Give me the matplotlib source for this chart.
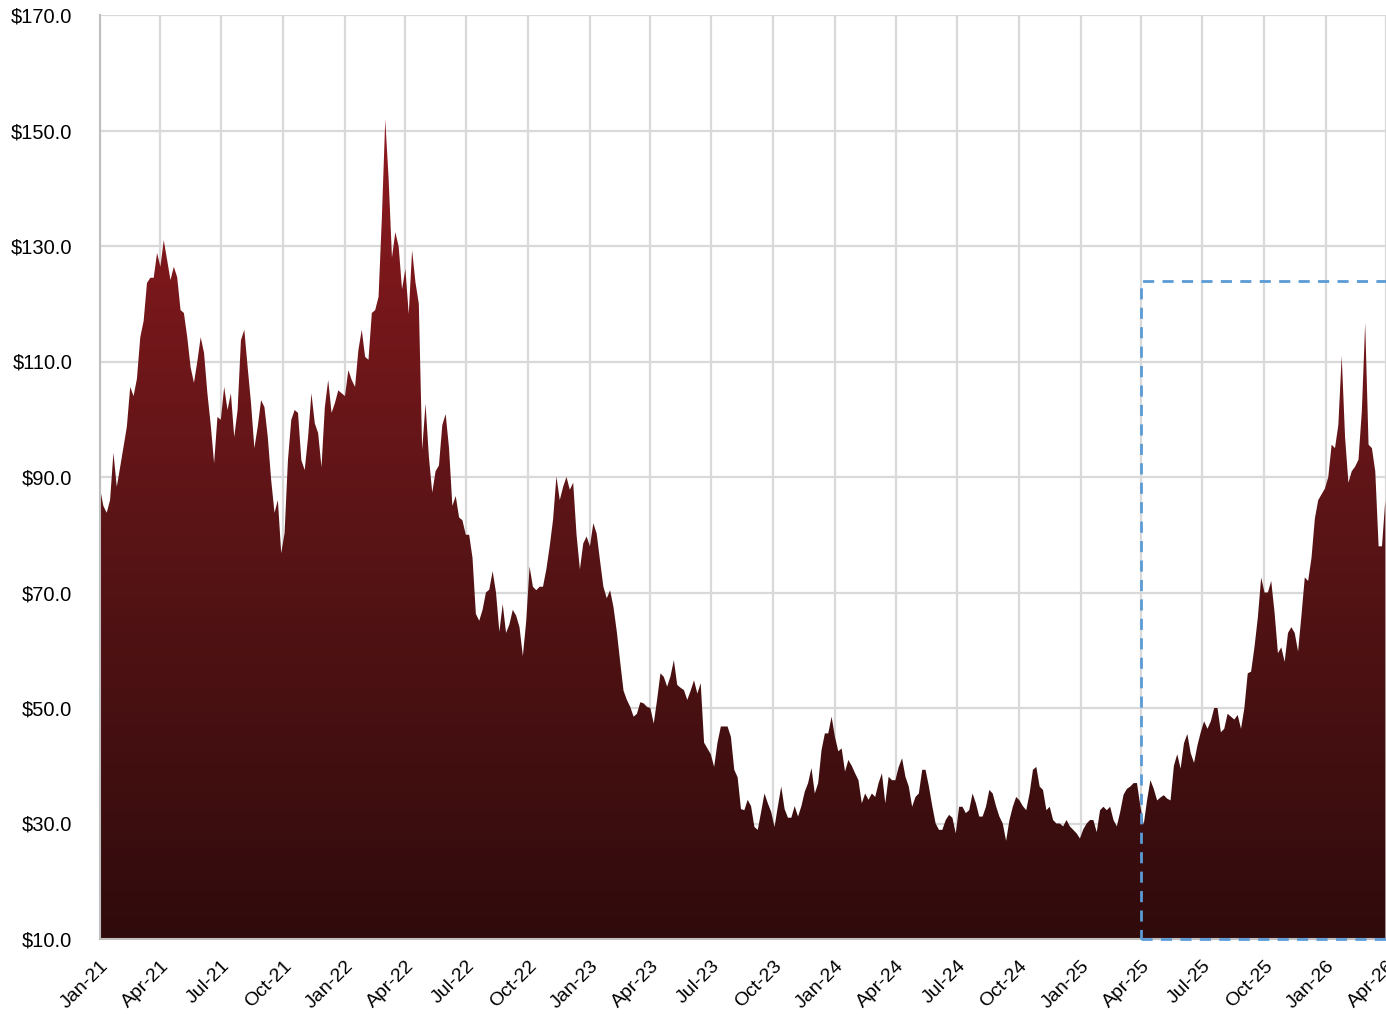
import numpy as np
import pandas as pd
import matplotlib
matplotlib.use("Agg")
import matplotlib.pyplot as plt
import matplotlib.dates as mdates
from matplotlib.colors import LinearSegmentedColormap
from matplotlib.patches import Rectangle

plt.rcParams['font.family'] = ['Liberation Sans Narrow', 'Liberation Sans', 'DejaVu Sans']

# price, one sample every 5 days from 2021-01-01
start_date = "2021-01-01"
step = "5D"
prices = [
    88, 85, 83.8, 86, 94.2, 88.3, 91.7, 95.2, 98.7, 105.6,
    104, 107, 114.2, 117, 123.6, 124.5, 124.5, 128.8, 126.4, 131,
    127.6, 124.1, 126.4, 124.6, 118.9, 118.4, 114.2, 109, 106.3, 110,
    114.2, 111.5, 104.5, 99, 92.4, 100.4, 99.9, 105.6, 101.6, 104.5,
    96.9, 101.6, 113.7, 115.5, 109, 102.8, 95, 98.7, 103.3, 102.1,
    96.9, 89.5, 83.8, 86, 76.8, 80.3, 92.9, 99.9, 101.6, 101.1,
    92.9, 91.2, 96.9, 104.5, 99.3, 97.6, 91.7, 102.1, 106.8, 101.1,
    102.8, 105, 104.5, 104, 108.5, 106.8, 105.6, 112, 115.5, 110.8,
    110.3, 118.4, 118.9, 121.2, 135, 151.9, 141.7, 128, 132.4, 129.9,
    122.5, 126, 118.2, 129.3, 123.7, 120, 94.7, 102.7, 93.5, 87.3,
    91, 92, 99, 100.9, 95, 85, 86.7, 83, 82.5, 80,
    80, 76, 66.3, 65.1, 67, 70, 70.5, 73.7, 70, 63.2,
    68, 63, 64.5, 67, 66, 64, 59, 65, 74.5, 71,
    70.4, 71, 71, 74, 78, 82.6, 90.1, 86, 88.3, 90,
    87.8, 89, 80, 74, 78.5, 79.7, 78, 82, 80.2, 75.5,
    71, 69, 70.4, 67.5, 63.2, 58, 53, 51.4, 50.2, 48.5,
    49, 51, 50.8, 50.2, 50, 47.3, 51.4, 56, 55.4, 53.7,
    55.5, 58.3, 54, 53.5, 53.1, 51.4, 53, 54.8, 52.5, 54.3,
    44, 43, 42, 39.8, 44, 46.8, 46.8, 46.8, 45, 39.3,
    38, 32.5, 32.3, 34.1, 33, 29.4, 28.9, 32, 35.2, 33.5,
    32, 29.4, 33, 36.4, 32.5, 31, 31, 33, 31.2, 33,
    35.5, 37, 39.6, 35.2, 37, 42.7, 45.6, 45.6, 48.5, 45,
    42.5, 43, 39, 41, 40, 38.7, 37.5, 33.5, 35.2, 34.1,
    35.2, 34.6, 37, 38.7, 33.5, 38.1, 37.5, 37.5, 39.8, 41.3,
    38.1, 36.4, 32.9, 34.6, 35.2, 39.3, 39.3, 36.4, 33, 30,
    28.9, 28.9, 30.6, 31.5, 31, 28.3, 32.9, 32.9, 31.8, 32.3,
    35.2, 33.5, 31.2, 31.2, 32.9, 35.8, 35.2, 33, 31.2, 30,
    27, 30.6, 32.9, 34.6, 34, 33, 32.3, 35.2, 39.3, 39.8,
    36.4, 35.8, 32.3, 32.9, 30.6, 30, 30, 29.5, 30.6, 29.5,
    28.9, 28.3, 27.4, 29, 30, 30.6, 30.6, 28.5, 32.3, 32.9,
    32.3, 32.9, 30.6, 29.5, 32, 35, 36, 36.4, 37, 37,
    33, 29.8, 34, 37.5, 36, 34, 34.5, 34.9, 34.3, 34,
    40, 42, 39.5, 43.9, 45.5, 42.2, 40.5, 43.5, 45.8, 47.7,
    46.4, 47.7, 50, 50, 45.8, 46.4, 49, 48.5, 48, 48.8,
    46.4, 50, 56, 56.3, 60.5, 65.6, 72.6, 70, 70, 72,
    66.5, 59.5, 60.5, 58, 63, 64, 63, 59.8, 66, 72.6,
    72, 76, 82.8, 86, 87, 88, 90, 95.6, 95, 99,
    111, 96.9, 89, 91, 91.8, 93, 101.4, 116.7, 95.6, 95,
    91, 78, 78, 86,
]

y_ticks = [10, 30, 50, 70, 90, 110, 130, 150, 170]
x_start, x_end = "2021-01-01", "2026-04-01"
box_start = "2025-04-01"
box_top = 124.0

dates = pd.date_range(start_date, periods=len(prices), freq=step)
xs = mdates.date2num(dates.to_pydatetime())
x0 = mdates.date2num(pd.Timestamp(x_start))
x1 = mdates.date2num(pd.Timestamp(x_end))

fig = plt.figure(figsize=(13.86, 10.14), dpi=100)
ax = fig.add_axes([100 / 1386, 75 / 1014, 1286 / 1386, 924 / 1014])

# gradient fill clipped to the area under the series
cmap = LinearSegmentedColormap.from_list("wine", ["#300b0c", "#5a1416", "#8e1a1f"])
grad = np.linspace(0, 1, 256).reshape(-1, 1)
img = ax.imshow(grad, cmap=cmap, origin="lower", aspect="auto",
                extent=[x0, x1, 10, 152], zorder=2)
poly = ax.fill_between(xs, 10, prices, color="none", lw=0, zorder=2)
clip = poly.get_paths()[0]
img.set_clip_path(clip, transform=ax.transData)

# dashed highlight box (right side runs off the canvas)
bx0 = mdates.date2num(pd.Timestamp(box_start))
ax.add_patch(Rectangle((bx0, 10), (x1 - bx0) * 1.05, box_top - 10, fill=False,
                       edgecolor="#5b9bd5", lw=2, ls=(0, (4, 3)), zorder=3,
                       clip_on=False))

ax.set_xlim(x0, x1)
ax.set_ylim(10, 170)
ax.set_yticks(y_ticks)
ax.set_yticklabels([f"${v:.1f}" for v in y_ticks], fontsize=14.5)
ticks = pd.date_range(x_start, x_end, freq="QS")
ax.set_xticks(mdates.date2num(ticks.to_pydatetime()))
ax.set_xticklabels([d.strftime("%b-%y") for d in ticks], fontsize=14,
                   rotation=45, ha="right", rotation_mode="anchor")
ax.tick_params(axis="y", length=0, pad=20)
ax.tick_params(axis="x", length=0, pad=13)
ax.grid(True, color="#d9d9d9", lw=1.6, zorder=0)
ax.set_axisbelow(True)
for s in ["top", "right"]:
    ax.spines[s].set_visible(False)
for s in ["left", "bottom"]:
    ax.spines[s].set_color("#bfbfbf")
    ax.spines[s].set_linewidth(1.5)

fig.savefig("out.png", dpi=100)
